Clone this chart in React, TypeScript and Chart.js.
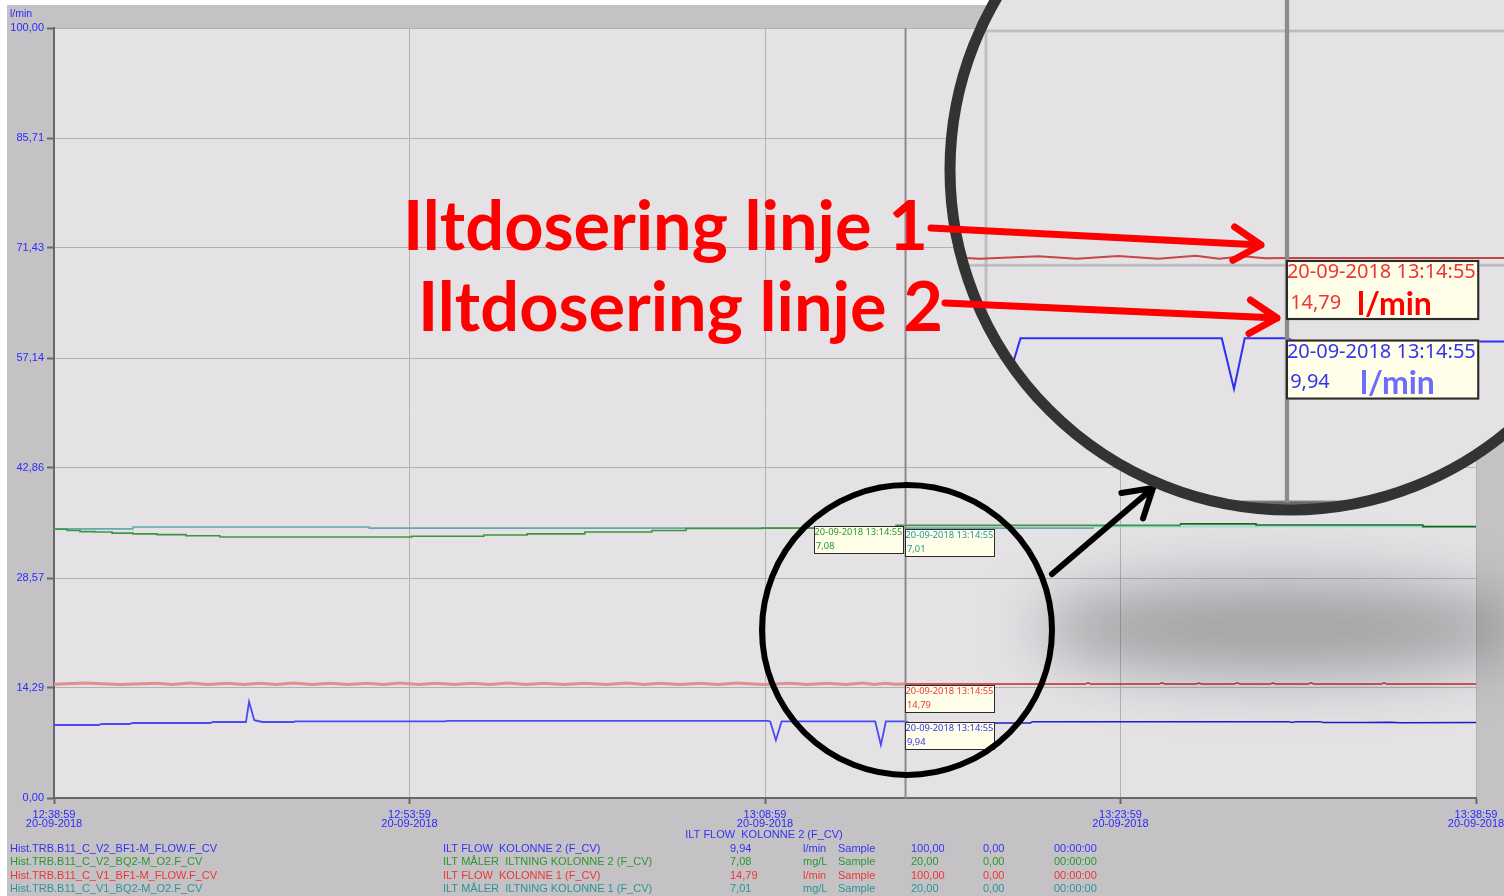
import React, { useEffect, useRef } from "react";
import { Chart, registerables } from "chart.js";
Chart.register(...registerables);

// ---------- data ----------
const dateLabel = "20-09-2018";
const xTickValues = [0, 15, 30, 45, 60]; // minutes after 12:38:59
const xTickTimes = ["12:38:59", "12:53:59", "13:08:59", "13:23:59", "13:38:59"];
const yTickValues = [0, 14.29, 28.57, 42.86, 57.14, 71.43, 85.71, 100];
const yTickLabels = ["0,00", "14,29", "28,57", "42,86", "57,14", "71,43", "85,71", "100,00"];
const yUnit = "l/min";

const cursorMinute = 35.93; // 13:14:55
const cursorLabel = "20-09-2018 13:14:55";

// ILT FLOW KOLONNE 2 (l/min)
const flowK2: [number, number][] = [
  [0, 9.48], [1.9, 9.48], [2.0, 9.61], [3.2, 9.61], [3.3, 9.74], [6.6, 9.74], [6.7, 9.87],
  [8.1, 9.87], [8.23, 12.5], [8.35, 11.2], [8.45, 10.1], [8.6, 10.0], [8.8, 9.87], [10.1, 9.87],
  [10.2, 9.94], [16.5, 9.94], [16.6, 10.02], [30.1, 10.02], [30.22, 9.94], [30.46, 7.5],
  [30.7, 9.94], [34.65, 9.94], [34.89, 6.88], [35.1, 9.94], [35.93, 9.94], [36.1, 9.75],
  [41.2, 9.75], [41.3, 9.91], [52.1, 9.91], [52.25, 9.8], [52.4, 9.91], [53.4, 9.91],
  [53.55, 9.8], [55.4, 9.8], [56.4, 9.83], [56.8, 9.78], [60, 9.8],
];
// ILT MÅLER ILTNING KOLONNE 2 (mg/L)
const o2K2: [number, number][] = [
  [0, 6.98], [0.55, 6.95], [1.1, 6.92], [1.73, 6.91], [2.45, 6.88], [3.33, 6.86], [4.35, 6.84],
  [5.57, 6.81], [7.0, 6.78], [15.1, 6.8], [18.14, 6.83], [19.96, 6.86], [22.4, 6.91],
  [25.23, 6.95], [26.67, 7.0], [29.87, 7.01], [35.53, 7.08], [47.51, 7.12], [50.72, 7.09],
  [57.76, 7.05], [60, 7.05],
];
// ILT FLOW KOLONNE 1 (l/min)
const flowK1: [number, number][] = [
  [0, 14.76], [1.31, 14.92], [2.8, 14.74], [4.35, 14.91], [5.0, 14.75], [5.74, 14.92],
  [6.5, 14.74], [7.3, 14.9], [8.0, 14.73], [8.69, 14.91], [9.4, 14.75], [10.08, 14.92],
  [10.9, 14.74], [11.64, 14.9], [12.4, 14.73], [13.21, 14.91], [13.9, 14.75], [14.6, 14.92],
  [15.4, 14.74], [16.12, 14.9], [16.9, 14.73], [17.64, 14.91], [18.4, 14.74], [19.16, 14.92],
  [19.9, 14.75], [20.68, 14.9], [21.5, 14.73], [22.4, 14.91], [23.3, 14.74], [24.18, 14.92],
  [24.9, 14.75], [25.57, 14.9], [26.4, 14.74], [27.26, 14.91], [28.0, 14.73], [28.82, 14.92],
  [29.9, 14.75], [31.05, 14.9], [31.8, 14.74], [32.62, 14.91], [33.4, 14.75], [34.14, 14.92],
  [34.6, 14.74], [35.06, 14.9], [35.5, 14.77], [35.93, 14.79], [43.5, 14.79], [43.63, 14.95],
  [43.76, 14.79], [46.62, 14.79], [46.75, 14.95], [46.88, 14.79], [48.18, 14.79],
  [48.31, 14.94], [48.44, 14.79], [49.79, 14.79], [49.92, 14.95], [50.05, 14.79],
  [51.3, 14.79], [51.43, 14.94], [51.56, 14.79], [52.91, 14.79], [53.04, 14.95],
  [53.17, 14.79], [55.99, 14.79], [56.12, 14.95], [56.25, 14.79], [60, 14.79],
];
// ILT MÅLER ILTNING KOLONNE 1 (mg/L)
const o2K1: [number, number][] = [
  [0, 6.99], [3.33, 7.04], [13.3, 7.01], [43.84, 7.05], [60, 7.05],
];

const seriesNames = [
  "ILT FLOW  KOLONNE 2 (F_CV)",
  "ILT MÅLER  ILTNING KOLONNE 2 (F_CV)",
  "ILT FLOW  KOLONNE 1 (F_CV)",
  "ILT MÅLER  ILTNING KOLONNE 1 (F_CV)",
];
const seriesTags = [
  "Hist.TRB.B11_C_V2_BF1-M_FLOW.F_CV",
  "Hist.TRB.B11_C_V2_BQ2-M_O2.F_CV",
  "Hist.TRB.B11_C_V1_BF1-M_FLOW.F_CV",
  "Hist.TRB.B11_C_V1_BQ2-M_O2.F_CV",
];
const seriesUnits = ["l/min", "mg/L", "l/min", "mg/L"];
const seriesMax = [100, 20, 100, 20];
const seriesMin = [0, 0, 0, 0];
const cursorValues = [9.94, 7.08, 14.79, 7.01];
const selectedName = "ILT FLOW  KOLONNE 2 (F_CV)";
const noteLine1 = "Iltdosering linje 1";
const noteLine2 = "Iltdosering linje 2";

// ---------- styles ----------
const FRAME = "#c4c2c4";
const PLOT_BG = "#e4e2e5";
const AXIS_BLUE = "#2a2aff";
const FONT = '"Liberation Sans", Arial, sans-serif';
const textColors = ["#3434f0", "#2f962f", "#f03434", "#2a9696"];
const leftColors = ["#4a4af5", "#3f963f", "#e29090", "#62aab0"];
const rightColors = ["#1c1cc8", "#1d6a1d", "#c42a2a", "#9fded8"];
const magColors = ["#3030f4", "#2f8a2f", "#c84646", "#4aa0a0"];
const leftWidths = [1.8, 1.6, 3, 1.6];
const rightWidths = [1.4, 1.6, 1.5, 2];
const axisIds = ["y", "y2", "y", "y2"];
const seriesData = [flowK2, o2K2, flowK1, o2K1];
const steppedSeries = [false, true, false, true];

const fmt = (v: number) => v.toFixed(2).replace(".", ",");

function drawBox(ctx: CanvasRenderingContext2D, x: number, y: number, color: string, l1: string, l2: string) {
  const w = 90, h = 28;
  ctx.fillStyle = "#fefee9";
  ctx.fillRect(x, y, w, h);
  ctx.strokeStyle = "#2a2a2a";
  ctx.lineWidth = 1;
  ctx.strokeRect(x + 0.5, y + 0.5, w - 1, h - 1);
  ctx.fillStyle = color;
  ctx.font = '9.3px "Noto Sans"';
  ctx.textBaseline = "middle";
  ctx.textAlign = "left";
  ctx.fillText(l1, x + 0.5, y + 6);
  ctx.fillText(l2, x + 2, y + 20);
}

function drawCursor(ctx: CanvasRenderingContext2D, chart: any) {
  const a = chart.chartArea;
  const scales: any = { y: chart.scales.y, y2: chart.scales.y2 };
  const cx = chart.scales.x.getPixelForValue(cursorMinute);
  ctx.save();
  ctx.strokeStyle = "#8c8a8c";
  ctx.lineWidth = 2;
  ctx.beginPath();
  ctx.moveTo(cx, a.top);
  ctx.lineTo(cx, a.bottom);
  ctx.stroke();
  cursorValues.forEach((v, i) => {
    const py = Math.round(scales[axisIds[i]].getPixelForValue(v)) + 1;
    const bx = i === 1 ? Math.round(cx) - 92 : Math.round(cx) - 1;
    drawBox(ctx, bx, py, textColors[i], cursorLabel, fmt(v));
  });
  ctx.restore();
}

function arrow(ctx: CanvasRenderingContext2D, x0: number, y0: number, x1: number, y1: number, color: string, w: number, head: number) {
  const ang = Math.atan2(y1 - y0, x1 - x0);
  ctx.save();
  ctx.strokeStyle = color;
  ctx.lineWidth = w;
  ctx.lineCap = "round";
  ctx.lineJoin = "round";
  ctx.beginPath();
  ctx.moveTo(x0, y0);
  ctx.lineTo(x1, y1);
  ctx.moveTo(x1 - head * Math.cos(ang - 0.55), y1 - head * Math.sin(ang - 0.55));
  ctx.lineTo(x1, y1);
  ctx.lineTo(x1 - head * Math.cos(ang + 0.55), y1 - head * Math.sin(ang + 0.55));
  ctx.stroke();
  ctx.restore();
}

const hmiPlugin = {
  id: "hmi",
  beforeDraw(chart: any) {
    const { ctx, chartArea: a } = chart;
    ctx.save();
    ctx.fillStyle = "#ffffff";
    ctx.fillRect(0, 0, chart.width, chart.height);
    ctx.fillStyle = FRAME;
    ctx.fillRect(7, 5, chart.width - 7, chart.height - 5);
    ctx.fillStyle = PLOT_BG;
    ctx.fillRect(a.left, a.top, a.right - a.left, a.bottom - a.top);
    ctx.restore();
  },
  beforeDatasetsDraw(chart: any) {
    // background + grid only, used by the magnifier
    const snap = document.createElement("canvas");
    snap.width = chart.canvas.width;
    snap.height = chart.canvas.height;
    snap.getContext("2d")!.drawImage(chart.canvas, 0, 0);
    chart.$gridSnap = snap;
  },
  afterDraw(chart: any) {
    const ctx: CanvasRenderingContext2D = chart.ctx;
    const cx = chart.scales.x.getPixelForValue(cursorMinute);

    drawCursor(ctx, chart);

    ctx.save();
    // unit label
    ctx.font = `10.5px ${FONT}`;
    ctx.fillStyle = AXIS_BLUE;
    ctx.textBaseline = "middle";
    ctx.textAlign = "left";
    ctx.fillText(yUnit, 10, 14);

    // legend table
    ctx.font = `11px ${FONT}`;
    ctx.textAlign = "center";
    ctx.fillStyle = "#3434f0";
    ctx.fillText(selectedName, 764, 835);
    ctx.textAlign = "left";
    const cols = [10, 443, 730, 803, 838, 911, 983, 1054];
    seriesNames.forEach((name, i) => {
      const y = 849 + i * 13.4;
      ctx.fillStyle = textColors[i];
      const cells = [seriesTags[i], name, fmt(cursorValues[i]), seriesUnits[i], "Sample", fmt(seriesMax[i]), fmt(seriesMin[i]), "00:00:00"];
      cells.forEach((c, j) => ctx.fillText(c, cols[j], y));
    });
    ctx.restore();

    // blurred shadow
    ctx.save();
    ctx.filter = "blur(30px)";
    ctx.fillStyle = "rgba(70,68,72,0.42)";
    ctx.beginPath();
    ctx.ellipse(1280, 628, 245, 46, 0, 0, Math.PI * 2);
    ctx.fill();
    ctx.restore();

    // small circle around the cursor
    ctx.save();
    ctx.strokeStyle = "#000";
    ctx.lineWidth = 6;
    ctx.beginPath();
    ctx.arc(907, 630, 145, 0, Math.PI * 2);
    ctx.stroke();
    ctx.restore();
    arrow(ctx, 1052, 574, 1153, 488, "#000", 6, 32);

    // magnifier
    const anchorY = chart.scales.y.getPixelForValue(cursorValues[2]);
    const M = { cx: 1290, cy: 170, r: 340, k: 2.15, ax: 1287, ay: 258 };
    ctx.save();
    ctx.beginPath();
    ctx.arc(M.cx, M.cy, M.r, 0, Math.PI * 2);
    ctx.clip();
    ctx.fillStyle = PLOT_BG;
    ctx.fillRect(M.cx - M.r, M.cy - M.r, 2 * M.r, 2 * M.r);
    ctx.translate(M.ax, M.ay);
    ctx.scale(M.k, M.k);
    ctx.translate(-cx, -anchorY);
    ctx.imageSmoothingEnabled = true;
    if (chart.$gridSnap) ctx.drawImage(chart.$gridSnap, 0, 0);
    chart.data.datasets.forEach((_d: any, i: number) => {
      const meta = chart.getDatasetMeta(i);
      ctx.save();
      ctx.strokeStyle = magColors[i];
      ctx.lineWidth = 0.95;
      ctx.lineJoin = "miter";
      ctx.beginPath();
      meta.dataset.path(ctx);
      ctx.stroke();
      ctx.restore();
    });
    drawCursor(ctx, chart);
    ctx.restore();
    ctx.save();
    ctx.strokeStyle = "#333333";
    ctx.lineWidth = 11;
    ctx.beginPath();
    ctx.arc(M.cx, M.cy, M.r, 0, Math.PI * 2);
    ctx.stroke();
    ctx.restore();

    // big unit labels in the magnifier
    ctx.save();
    ctx.font = `bold 32px Lato, "Open Sans", sans-serif`;
    ctx.textBaseline = "alphabetic";
    ctx.textAlign = "left";
    ctx.fillStyle = "#ff0000";
    ctx.fillText(seriesUnits[2], 1357, 315);
    ctx.fillStyle = "#6c6cff";
    ctx.fillText(seriesUnits[0], 1360, 394);

    // notes
    const fitSize = (t: string, w: number) => {
      ctx.font = `bold 100px Lato, "Open Sans", sans-serif`;
      return (100 * w) / ctx.measureText(t).width;
    };
    ctx.fillStyle = "#ff0000";
    const s1 = fitSize(noteLine1, 525);
    ctx.font = `bold ${s1}px Lato, "Open Sans", sans-serif`;
    ctx.fillText(noteLine1, 403, 250);
    const s2 = fitSize(noteLine2, 525);
    ctx.font = `bold ${s2}px Lato, "Open Sans", sans-serif`;
    ctx.fillText(noteLine2, 418, 331);
    ctx.restore();
    arrow(ctx, 931, 228, 1261, 245, "#ff0000", 7, 32);
    arrow(ctx, 945, 303, 1277, 318, "#ff0000", 7, 32);
  },
};

export default function App() {
  const ref = useRef<HTMLCanvasElement>(null);
  useEffect(() => {
    const datasets = seriesData.map((d, i) => ({
      label: seriesNames[i],
      data: d.map(([x, y]) => ({ x, y })),
      yAxisID: axisIds[i],
      stepped: steppedSeries[i],
      borderColor: rightColors[i],
      borderWidth: rightWidths[i],
      pointRadius: 0,
      tension: 0,
      fill: false,
      segment: {
        borderColor: (c: any) => (c.p0.parsed.x < cursorMinute ? leftColors[i] : rightColors[i]),
        borderWidth: (c: any) => (c.p0.parsed.x < cursorMinute ? leftWidths[i] : rightWidths[i]),
      },
    }));
    const chart = new Chart(ref.current!, {
      type: "line",
      data: { datasets },
      plugins: [hmiPlugin],
      options: {
        animation: false,
        responsive: false,
        devicePixelRatio: 1,
        layout: { padding: { left: 0, top: 28, right: 28, bottom: 68 } },
        plugins: { legend: { display: false }, tooltip: { enabled: false } },
        scales: {
          x: {
            type: "linear",
            min: 0,
            max: 60,
            afterBuildTicks: (s: any) => {
              s.ticks = xTickValues.map((v) => ({ value: v }));
            },
            afterFit: (s: any) => {
              s.height = 30;
              s.paddingLeft = 0;
              s.paddingRight = 0;
            },
            ticks: {
              autoSkip: false,
              maxRotation: 0,
              minRotation: 0,
              padding: 6,
              color: AXIS_BLUE,
              font: { family: FONT, size: 11, lineHeight: 0.85 },
              callback: (_v: any, i: number) => [xTickTimes[i], dateLabel],
            },
            grid: { color: "#b3b1b3", lineWidth: 1, tickLength: 6, tickColor: "#6a686a", tickWidth: 2 },
            border: { color: "#6a686a", width: 2 },
          },
          y: {
            type: "linear",
            min: 0,
            max: 100,
            afterBuildTicks: (s: any) => {
              s.ticks = yTickValues.map((v) => ({ value: v }));
            },
            afterFit: (s: any) => {
              s.width = 54;
              s.paddingTop = 0;
              s.paddingBottom = 0;
            },
            ticks: {
              padding: 3,
              color: AXIS_BLUE,
              font: { family: FONT, size: 11 },
              callback: (_v: any, i: number) => yTickLabels[i],
            },
            grid: { color: "#b3b1b3", lineWidth: 1, tickLength: 7, tickColor: "#6a686a", tickWidth: 2 },
            border: { color: "#6a686a", width: 2 },
          },
          y2: { type: "linear", display: false, min: 0, max: 20 },
        },
      } as any,
    } as any);
    return () => chart.destroy();
  }, []);
  return (
    <div style={{ position: "absolute", left: 0, top: 0, width: 1504, height: 896, background: "#fff", overflow: "hidden" }}>
      <canvas ref={ref} width={1504} height={896} style={{ display: "block", width: 1504, height: 896 }} />
    </div>
  );
}
